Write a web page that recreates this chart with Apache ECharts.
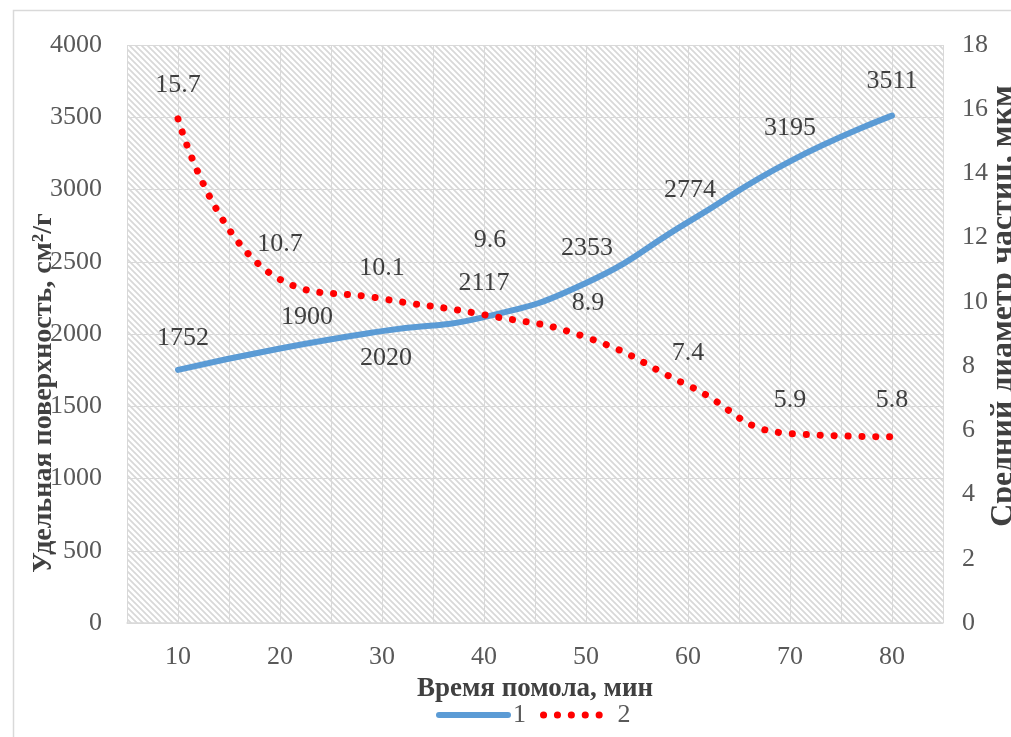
<!DOCTYPE html>
<html>
<head>
<meta charset="utf-8">
<script src="https://cdn.jsdelivr.net/npm/echarts@6/dist/echarts.min.js"></script>
<style>
  html, body { margin: 0; padding: 0; background: #fff; overflow: hidden; }
  #chart { width: 1011px; height: 737px; }
</style>
</head>
<body>
<div id="chart"></div>
<script>
// Grinding time, minutes
const grindTime = [10, 20, 30, 40, 50, 60, 70, 80];
// Series 1: specific surface area, cm²/g (left axis)
const specificSurface = [1752, 1900, 2020, 2117, 2353, 2774, 3195, 3511];
// Series 2: mean particle diameter, µm (right axis)
const meanDiameter = [15.7, 10.7, 10.1, 9.6, 8.9, 7.4, 5.9, 5.8];
const seriesNames = ['1', '2'];

// Label offsets (px, relative to each point) so the value labels do not collide
const surfaceLabelOffsets = [[5, -32], [27, -31], [4, 27], [0, -34], [1, -35], [2, -32], [0, -33], [0, -34]];
const diameterLabelOffsets = [[0, -34], [0, -35], [0, -31], [6, -75], [2, -34], [0, -32], [0, -33], [0, -37]];

const FONT = 'Liberation Serif';
const TICK_SIZE = 26;

// Diagonal hatch fill for the plot area
function makeHatch() {
  const s = 6;
  const c = document.createElement('canvas');
  c.width = s; c.height = s;
  const g = c.getContext('2d');
  g.fillStyle = '#ffffff';
  g.fillRect(0, 0, s, s);
  g.strokeStyle = '#d8d8d8';
  g.lineWidth = 1.7;
  g.beginPath();
  g.moveTo(-1, -1); g.lineTo(s + 1, s + 1);
  g.moveTo(-1, s - 1); g.lineTo(1, s + 1);
  g.moveTo(s - 1, -1); g.lineTo(s + 1, 1);
  g.stroke();
  return c;
}

function buildSeriesData(values, offsets) {
  return values.map((v, i) => ({
    value: [grindTime[i], v],
    label: { offset: offsets[i] }
  }));
}

const labelStyle = {
  show: true,
  position: 'inside',
  fontFamily: FONT,
  fontSize: TICK_SIZE,
  color: '#404040'
};

const titleStyle = { fontFamily: FONT, fontWeight: 'bold', fill: '#404040' };

const chart = echarts.init(document.getElementById('chart'), null, { renderer: 'canvas' });

chart.setOption({
  animation: false,
  backgroundColor: '#ffffff',
  graphic: [{
    type: 'rect',
    shape: { x: 13.5, y: 10.5, width: 1100, height: 800 },
    style: { fill: 'none', stroke: '#d9d9d9', lineWidth: 1.5 },
    silent: true
  }, {
    type: 'text',
    x: 44, y: 393,
    rotation: Math.PI / 2,
    style: Object.assign({ text: 'Удельная поверхность, см²/г', fontSize: 28, align: 'center', verticalAlign: 'middle' }, titleStyle),
    silent: true
  }, {
    type: 'text',
    x: 1004, y: 306,
    rotation: Math.PI / 2,
    style: Object.assign({ text: 'Средний диаметр частиц, мкм', fontSize: 32, align: 'center', verticalAlign: 'middle' }, titleStyle),
    silent: true
  }],
  grid: {
    left: 127, right: 68, top: 45, bottom: 114,
    outerBoundsMode: 'none',
    containLabel: false,
    show: true,
    borderWidth: 0,
    backgroundColor: { image: makeHatch(), repeat: 'repeat' }
  },
  legend: {
    data: seriesNames,
    left: 436,
    top: 702,
    padding: 0,
    itemWidth: 69,
    itemHeight: 12,
    itemGap: 14,
    itemStyle: { opacity: 0 },
    lineStyle: { width: 'inherit', type: 'inherit', cap: 'round' },
    textStyle: { fontFamily: FONT, fontSize: TICK_SIZE, color: '#595959' }
  },
  xAxis: {
    type: 'value',
    min: 5, max: 85, interval: 5,
    name: 'Время помола, мин',
    nameLocation: 'middle',
    nameGap: 53,
    nameTextStyle: { fontFamily: FONT, fontSize: 27, fontWeight: 'bold', color: '#404040' },
    axisLine: { show: true, lineStyle: { color: '#d9d9d9', width: 1.5 } },
    axisTick: { show: false },
    axisLabel: {
      fontFamily: FONT, fontSize: TICK_SIZE, color: '#595959', margin: 21,
      formatter: v => (v % 10 === 0 && v >= 10 && v <= 80) ? String(v) : ''
    },
    splitLine: { show: true, lineStyle: { color: '#d9d9d9', width: 1 } }
  },
  yAxis: [{
    type: 'value',
    min: 0, max: 4000, interval: 500,
    axisLine: { show: false },
    axisTick: { show: false },
    axisLabel: { fontFamily: FONT, fontSize: TICK_SIZE, color: '#595959', margin: 25, formatter: v => String(v) },
    splitLine: { show: true, lineStyle: { color: '#d9d9d9', width: 1 } }
  }, {
    type: 'value',
    min: 0, max: 18, interval: 2,
    position: 'right',
    axisLine: { show: false },
    axisTick: { show: false },
    axisLabel: { fontFamily: FONT, fontSize: TICK_SIZE, color: '#595959', margin: 19, formatter: v => String(v) },
    splitLine: { show: false }
  }],
  series: [{
    name: seriesNames[0],
    type: 'line',
    yAxisIndex: 0,
    smooth: 0.5,
    symbol: 'circle',
    symbolSize: 0.01,
    showSymbol: true,
    color: '#5b9bd5',
    lineStyle: { color: '#5b9bd5', width: 6, cap: 'round' },
    label: labelStyle,
    data: buildSeriesData(specificSurface, surfaceLabelOffsets),
    z: 3
  }, {
    name: seriesNames[1],
    type: 'line',
    yAxisIndex: 1,
    smooth: 0.5,
    symbol: 'circle',
    symbolSize: 0.01,
    showSymbol: true,
    color: '#ff0000',
    lineStyle: { color: '#ff0000', width: 7, type: [0.1, 13.8], cap: 'round' },
    label: labelStyle,
    data: buildSeriesData(meanDiameter, diameterLabelOffsets),
    z: 4
  }]
});
</script>
</body>
</html>
